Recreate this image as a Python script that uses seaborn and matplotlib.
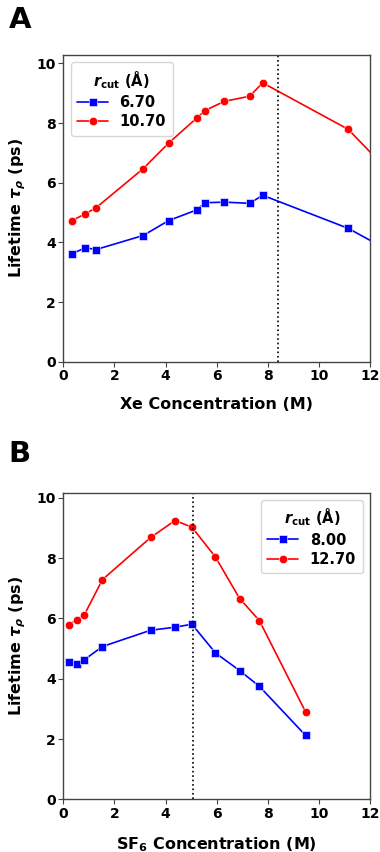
import numpy as np
import pandas as pd
import matplotlib
matplotlib.use("Agg")
import matplotlib.pyplot as plt
import seaborn as sns

# Panel A: Xe mixtures
xe_conc = [0.34, 0.86, 1.28, 3.12, 4.12, 5.22, 5.54, 6.30, 7.29, 7.80, 11.15, 13.0]
xe_tau_short = [3.62, 3.82, 3.76, 4.23, 4.73, 5.09, 5.33, 5.35, 5.31, 5.58, 4.47, 3.60]
xe_tau_long = [4.73, 4.96, 5.16, 6.47, 7.33, 8.17, 8.42, 8.73, 8.90, 9.35, 7.79, 6.14]
xe_rcut = ["6.70", "10.70"]
xe_marker_line = 8.39

# Panel B: SF6 mixtures
sf6_conc = [0.22, 0.52, 0.82, 1.53, 3.42, 4.37, 5.03, 5.95, 6.90, 7.67, 9.48]
sf6_tau_short = [4.54, 4.48, 4.63, 5.07, 5.61, 5.71, 5.81, 4.86, 4.27, 3.75, 2.12]
sf6_tau_long = [5.79, 5.96, 6.12, 7.29, 8.69, 9.25, 9.03, 8.04, 6.66, 5.93, 2.90]
sf6_rcut = ["8.00", "12.70"]
sf6_marker_line = 5.09

sns.set_style("white")
plt.rcParams["font.family"] = ["DejaVu Sans"]
plt.rcParams["font.weight"] = "bold"
plt.rcParams["axes.labelweight"] = "bold"
plt.rcParams["text.color"] = "black"
plt.rcParams["axes.labelcolor"] = "black"
plt.rcParams["xtick.color"] = "black"
plt.rcParams["ytick.color"] = "black"
plt.rcParams["mathtext.fontset"] = "custom"
plt.rcParams["mathtext.it"] = "DejaVu Sans:italic:bold"
plt.rcParams["mathtext.rm"] = "DejaVu Sans:bold"
plt.rcParams["mathtext.bf"] = "DejaVu Sans:bold"

fig = plt.figure(figsize=(3.8, 8.52), dpi=100)
ax_a = fig.add_axes([0.1667, 0.5755, 0.807, 0.360])
ax_b = fig.add_axes([0.1667, 0.0618, 0.807, 0.360])


def draw_panel(ax, conc, short, long_, labels, vline, xlabel, legend_loc, ymax):
    df = pd.DataFrame({
        "conc": conc + conc,
        "tau": short + long_,
        "rcut": [labels[0]] * len(conc) + [labels[1]] * len(conc),
    })
    sns.lineplot(data=df, x="conc", y="tau", hue="rcut", style="rcut",
                 palette={labels[0]: "blue", labels[1]: "red"},
                 markers={labels[0]: "s", labels[1]: "o"},
                 dashes=False, markersize=6, markeredgewidth=0.4,
                 linewidth=1.2, ax=ax, sort=False)
    ax.axvline(vline, color="black", linestyle=":", linewidth=1.2)
    ax.set_xlim(0, 12)
    ax.set_ylim(0, ymax)
    ax.set_xticks(np.arange(0, 13, 2))
    ax.set_yticks(np.arange(0, 11, 2))
    ax.set_xlabel(xlabel, fontsize=11.5, fontweight="bold", labelpad=10)
    ax.set_ylabel(r"Lifetime $\tau_\rho$ (ps)", fontsize=11.5, fontweight="bold",
                  labelpad=6)
    ax.tick_params(axis="both", which="both", direction="out", length=3.5,
                   width=0.8, color="#444444", labelsize=10,
                   bottom=True, left=True, pad=2)
    for lab in ax.get_xticklabels() + ax.get_yticklabels():
        lab.set_fontweight("bold")
    for sp in ax.spines.values():
        sp.set_color("#444444")
        sp.set_linewidth(1.0)
    ax.legend(title=r"$r_{\mathrm{cut}}$ (Å)", loc=legend_loc,
              prop={"weight": "bold", "size": 10.5},
              title_fontproperties={"weight": "bold", "size": 10.5},
              frameon=True, fancybox=True, framealpha=0.8,
              edgecolor="#cccccc", handlelength=2.1,
              borderpad=0.45, labelspacing=0.3)


draw_panel(ax_a, xe_conc, xe_tau_short, xe_tau_long, xe_rcut, xe_marker_line,
           "Xe Concentration (M)", "upper left", 1.1 * max(xe_tau_long[:11]))
draw_panel(ax_b, sf6_conc, sf6_tau_short, sf6_tau_long, sf6_rcut, sf6_marker_line,
           r"SF$_6$ Concentration (M)", "upper right", 1.1 * max(sf6_tau_long))

fig.text(0.022, 0.977, "A", fontsize=21, fontweight="bold", va="center")
fig.text(0.022, 0.467, "B", fontsize=21, fontweight="bold", va="center")

fig.savefig("out.png", dpi=100)
